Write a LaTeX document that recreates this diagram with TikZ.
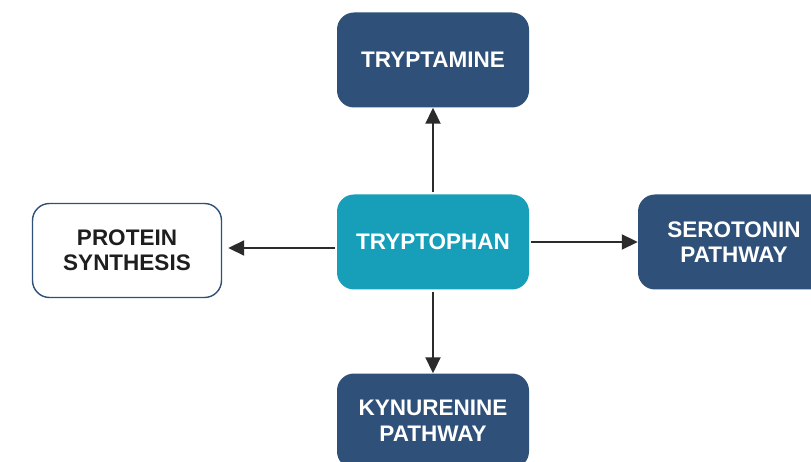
\documentclass[tikz,border=0pt]{standalone}
\usepackage{fontspec}
\setmainfont{Liberation Sans}
\usetikzlibrary{arrows.meta}
\definecolor{navy}{HTML}{2E5079}
\definecolor{teal}{HTML}{179EB9}
\definecolor{ink}{HTML}{1E1E1E}
\definecolor{arrowgray}{HTML}{2B2B2B}
\tikzset{
  box/.style={rounded corners=17pt, minimum width=192pt, minimum height=95pt,
    inner sep=0pt, align=center, font=\bfseries\fontsize{22.5}{25.5}\selectfont},
  darkbox/.style={box, fill=navy, text=white},
  mainbox/.style={box, fill=teal, text=white},
  openbox/.style={box, draw=navy, line width=1.4pt, fill=white, text=ink,
    minimum width=189pt, minimum height=94pt},
  flow/.style={draw=arrowgray, line width=1.9pt,
    -{Triangle[length=16pt,width=15pt]}}
}
\begin{document}
\begin{tikzpicture}[x=1pt,y=-1pt]
  \clip (0,0) rectangle (811,462);
  \fill[white] (0,0) rectangle (811,462);

  \node[mainbox] (tryptophan) at (433,242) {TRYPTOPHAN};
  \node[darkbox] (tryptamine) at (433,60) {TRYPTAMINE};
  \node[openbox] (protein) at (127,250.5) {PROTEIN\\SYNTHESIS};
  \node[darkbox] (serotonin) at (734,242) {SEROTONIN\\PATHWAY};
  \node[darkbox] (kynurenine) at (433,421) {KYNURENINE\\PATHWAY};

  \draw[flow, shorten <=2pt] (tryptophan.north) -- (tryptamine.south);
  \draw[flow, shorten <=2pt, shorten >=6pt]
    ([yshift=-6pt]tryptophan.west) -- ([yshift=-6pt]tryptophan.west -| protein.east);
  \draw[flow, shorten <=2pt] (tryptophan.east) -- (serotonin.west);
  \draw[flow, shorten <=2pt] (tryptophan.south) -- (kynurenine.north);
\end{tikzpicture}
\end{document}
